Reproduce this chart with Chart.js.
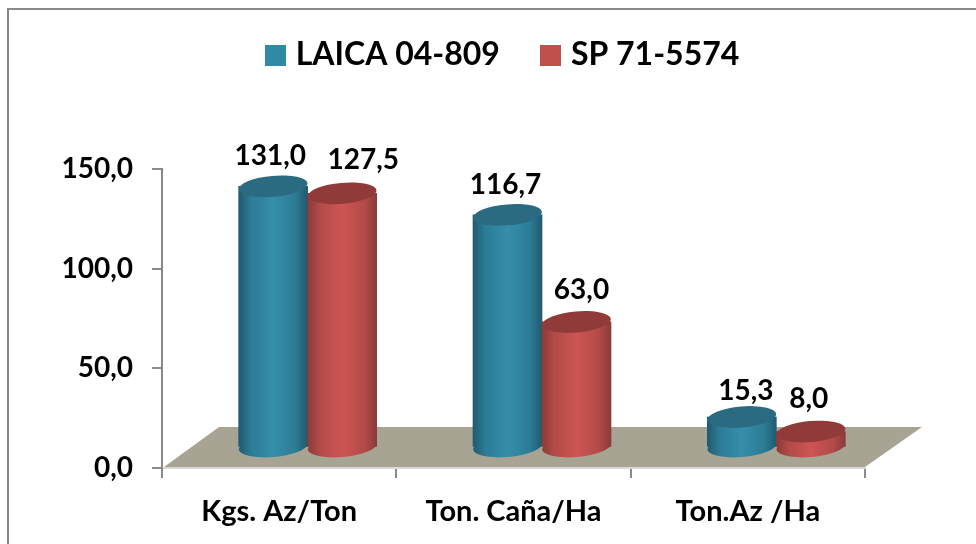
<!DOCTYPE html>
<html>
<head>
<meta charset="utf-8">
<style>
html,body{margin:0;padding:0;background:#fff;overflow:hidden}
canvas{display:block}
</style>
<script src="https://cdn.jsdelivr.net/npm/chart.js@4/dist/chart.umd.min.js"></script>
</head>
<body>
<canvas id="chart" width="976" height="544"></canvas>
<script>
// data
const categories=["Kgs. Az/Ton","Ton. Caña/Ha","Ton.Az /Ha"];
const laica=[131.0,116.7,15.3];
const sp=[127.5,63.0,8.0];
const seriesNames=["LAICA 04-809","SP 71-5574"];
const yTicks=[0,50,100,150];

// label nudges, the original has them moved by hand
const labelDx=[[-3,-2,4],[21,5,-2]];
const labelDy=[[-30,-30,-26],[-33,-32,-33]];

const fontName="Lato, Carlito, sans-serif";
const barWidth=69;
const depthX=57, depthY=41;

const blue={edge:"#215a70",side:"#2c7c96",mid:"#368ea9",cap:"#2a6b82",flat:"#318aa3"};
const red={edge:"#8b3b39",side:"#b24b49",mid:"#cd5553",cap:"#903b39",flat:"#c0504d"};
const palette=[blue,red];

function comma(v){
    return v.toFixed(1).replace(".",",");
}

function cylinderFill(ctx,x0,x1,c){
    const g=ctx.createLinearGradient(x0,0,x1,0);
    g.addColorStop(0,c.edge);
    g.addColorStop(.18,c.side);
    g.addColorStop(.5,c.mid);
    g.addColorStop(.82,c.side);
    g.addColorStop(1,c.edge);
    return g;
}

// legend swatch, a canvas so the text can sit closer to it
function swatch(color){
    const s=document.createElement("canvas");
    s.width=21;
    s.height=21;
    const c=s.getContext("2d");
    c.fillStyle=color;
    c.fillRect(0,0,21,21);
    return s;
}

function barFill(context){
    if(context.dataIndex===undefined) return palette[context.datasetIndex].flat;
    const chart=context.chart;
    const mid=chart.scales.x.getPixelForValue(context.dataIndex);
    const x0=mid+(context.datasetIndex-1)*barWidth;
    return cylinderFill(chart.ctx,x0,x0+barWidth,palette[context.datasetIndex]);
}

function ellipse(ctx,x,y,fill){
    ctx.beginPath();
    ctx.ellipse(x,y,barWidth/2,10.5,-5*Math.PI/180,0,Math.PI*2);
    ctx.fillStyle=fill;
    ctx.fill();
}

const cylinders={
    id:"cylinders",
    afterLayout(chart){
        // tick labels get clipped to the scale box, so open it to the left
        chart.scales.y.left=40;
    },
    beforeDraw(chart){
        // frame of the chart object
        const ctx=chart.ctx;
        ctx.fillStyle="#888888";
        ctx.fillRect(7,8,969,2);
        ctx.fillRect(7,8,2,536);
    },
    beforeDatasetsDraw(chart){
        const ctx=chart.ctx;
        const a=chart.chartArea;

        // floor
        ctx.beginPath();
        ctx.moveTo(a.left+2,a.bottom-1);
        ctx.lineTo(a.right,a.bottom-1);
        ctx.lineTo(a.right+depthX,a.bottom-depthY);
        ctx.lineTo(a.left+depthX,a.bottom-depthY);
        ctx.closePath();
        ctx.fillStyle="#a8a494";
        ctx.fill();

        // cylinders stand in the middle of the floor, red goes over blue
        ctx.save();
        ctx.translate(depthX/2,-depthY/2);
        [0,1].forEach(function(i){
            const meta=chart.getDatasetMeta(i);
            meta.data.forEach(function(bar){
                const x0=bar.x-barWidth/2;
                ellipse(ctx,bar.x,bar.base,cylinderFill(ctx,x0,x0+barWidth,palette[i]));
            });
            meta.controller.draw();
            meta.data.forEach(function(bar){
                ellipse(ctx,bar.x,bar.y,palette[i].cap);
            });
        });
        ctx.restore();

        // value labels
        ctx.fillStyle="#000";
        ctx.font="bold 28px "+fontName;
        ctx.textAlign="center";
        ctx.textBaseline="middle";
        [0,1].forEach(function(i){
            chart.getDatasetMeta(i).data.forEach(function(bar,j){
                const value=chart.data.datasets[i].data[j];
                ctx.fillText(comma(value),bar.x+depthX/2+labelDx[i][j],bar.y-depthY/2+labelDy[i][j]);
            });
        });
        return false;
    }
};

new Chart(document.getElementById("chart"),{
    type:"bar",
    data:{
        labels:categories,
        datasets:[
            {label:seriesNames[0],data:laica,backgroundColor:barFill,barThickness:barWidth},
            {label:seriesNames[1],data:sp,backgroundColor:barFill,barThickness:barWidth}
        ]
    },
    options:{
        responsive:false,
        animation:false,
        layout:{padding:{left:145,right:111,top:-7,bottom:0}},
        plugins:{
            tooltip:{enabled:false},
            title:{display:true,text:" ",weight:500,font:{size:10},padding:{top:0,bottom:76}},
            legend:{
                position:"top",
                onClick:null,
                labels:{
                    padding:46,
                    boxWidth:9,
                    boxHeight:21,
                    usePointStyle:true,
                    color:"#000",
                    font:{family:fontName,size:32,weight:"bold"},
                    generateLabels(){
                        return seriesNames.map(function(name,i){
                            return {text:name,fontColor:"#000",pointStyle:swatch(palette[i].flat),datasetIndex:i,lineWidth:0};
                        });
                    }
                }
            }
        },
        scales:{
            x:{
                afterFit(scale){scale.height=76;},
                border:{color:"#d9d9d9",width:2},
                grid:{drawOnChartArea:false,color:"#8a8a8a",lineWidth:2,tickLength:10},
                ticks:{color:"#000",padding:16,maxRotation:0,font:{family:fontName,size:29,weight:"bold"}}
            },
            y:{
                min:0,
                max:150,
                afterFit(scale){scale.width=17;},
                afterBuildTicks(scale){scale.ticks=yTicks.map(function(v){return {value:v};});},
                border:{color:"#8a8a8a",width:2},
                grid:{drawOnChartArea:false,color:"#8a8a8a",lineWidth:2,tickLength:10},
                ticks:{color:"#000",padding:19,font:{family:fontName,size:28,weight:"bold"},callback:comma}
            }
        }
    },
    plugins:[cylinders]
});
</script>
</body>
</html>
